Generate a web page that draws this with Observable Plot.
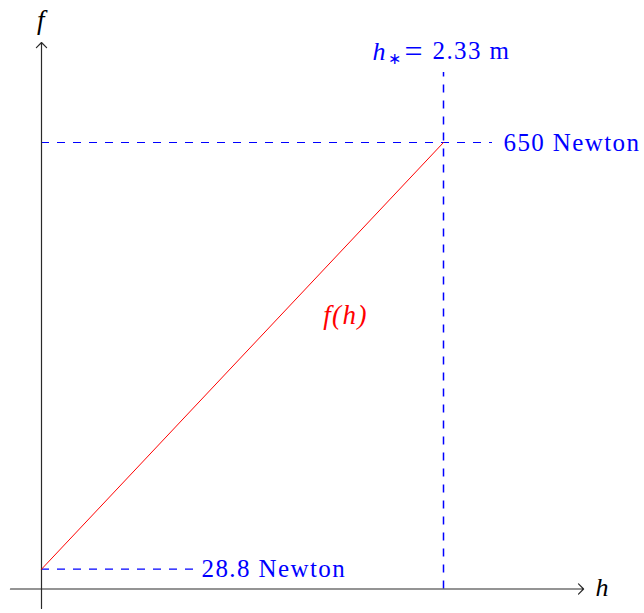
<!DOCTYPE html>
<html>
<head>
<meta charset="utf-8">
<script src="https://cdn.jsdelivr.net/npm/d3@7"></script>
<script src="https://cdn.jsdelivr.net/npm/@observablehq/plot@0.6"></script>
<style>
  html, body { margin: 0; padding: 0; background: #fff; }
  #chart svg { display: block; }
  #chart svg text { letter-spacing: 1.4px; }
</style>
</head>
<body>
<div id="chart"></div>
<script>
// Force f(h) against height h: straight line between the two end values
const hStar = 2.33;          // m
const fAtZero = 28.8;        // Newton
const fAtStar = 650;         // Newton
const curveH = [0, hStar];
const curveF = [fAtZero, fAtStar];

// Extents of the drawn axes (data units)
const hAxisExtent = [-0.18, 3.142];
const fAxisExtent = [-28.4, 795.6];

// Extents of the dashed guide lines
const upperGuideEnd = 2.614;   // h where the 650 N guide stops
const lowerGuideEnd = 0.881;   // h where the 28.8 N guide stops
const verticalGuideTop = 752;  // f where the h* guide stops

// Label text
const upperLabel = "650 Newton";
const lowerLabel = "28.8 Newton";
const curveLabel = "f(h)";
const curveLabelAt = { h: 1.762, f: 398 };

const serif = "Liberation Serif";
const blue = "#0000ff";
const red = "#ff0000";
const axisInk = "#2a2a2a";
const dash = "8,8";

const curve = curveH.map((h, i) => ({ h, f: curveF[i] }));

const txt = (extra) => ({ fontFamily: serif, fontSize: 25, ...extra });

const chart = Plot.plot({
  width: 644,
  height: 613,
  margin: 0,
  style: { background: "#fff", overflow: "visible" },
  x: { domain: [0, hStar], range: [41, 443], axis: null },
  y: { domain: [0, fAtStar], range: [588.5, 142], axis: null },
  marks: [
    // dashed guides
    Plot.ruleY([fAtStar], { x1: 0, x2: upperGuideEnd, stroke: blue, strokeWidth: 1.2, strokeDasharray: dash }),
    Plot.ruleY([fAtZero], { x1: 0, x2: lowerGuideEnd, stroke: blue, strokeWidth: 1.2, strokeDasharray: dash }),
    Plot.ruleX([hStar], { y1: 0, y2: verticalGuideTop, stroke: blue, strokeWidth: 1.5, strokeDasharray: dash }),
    // axes with arrow heads
    Plot.arrow([{ x1: hAxisExtent[0], x2: hAxisExtent[1], y: 0 }], {
      x1: "x1", x2: "x2", y1: "y", y2: "y",
      stroke: axisInk, strokeWidth: 1.2, headAngle: 90, headLength: 9
    }),
    Plot.arrow([{ y1: fAxisExtent[0], y2: fAxisExtent[1], x: 0 }], {
      x1: "x", x2: "x", y1: "y1", y2: "y2",
      stroke: axisInk, strokeWidth: 1.2, headAngle: 90, headLength: 9
    }),
    // the force curve
    Plot.line(curve, { x: "h", y: "f", stroke: red, strokeWidth: 1 }),
    // axis names
    Plot.text(["f"], txt({ x: 0, y: fAxisExtent[1], dy: -22, fontSize: 27, fontStyle: "italic", fill: "#000" })),
    Plot.text(["h"], txt({ x: hAxisExtent[1], y: 0, dx: 12, dy: -1, textAnchor: "start", fontSize: 26, fontStyle: "italic", fill: "#000" })),
    // value labels
    Plot.text([upperLabel], txt({ x: upperGuideEnd, y: fAtStar, dx: 11, textAnchor: "start", fill: blue })),
    Plot.text([lowerLabel], txt({ x: lowerGuideEnd, y: fAtZero, dx: 8, textAnchor: "start", fill: blue })),
    Plot.text(["h"], txt({ x: hStar, y: verticalGuideTop, dx: -71, dy: -21, textAnchor: "start", fontSize: 26, fontStyle: "italic", fill: blue })),
    Plot.text(["\u2217"], txt({ x: hStar, y: verticalGuideTop, dx: -56, dy: -14, textAnchor: "start", fontSize: 16, fill: blue })),
    Plot.text(["="], txt({ x: hStar, y: verticalGuideTop, dx: -39, dy: -21, textAnchor: "start", fontSize: 32, fill: blue })),
    Plot.text(["2.33 m"], txt({ x: hStar, y: verticalGuideTop, dx: -11, dy: -21, textAnchor: "start", fill: blue })),
    Plot.text([curveLabel], txt({ x: curveLabelAt.h, y: curveLabelAt.f, fontSize: 27, fontStyle: "italic", fill: red }))
  ]
});

document.getElementById("chart").append(chart);
</script>
</body>
</html>
